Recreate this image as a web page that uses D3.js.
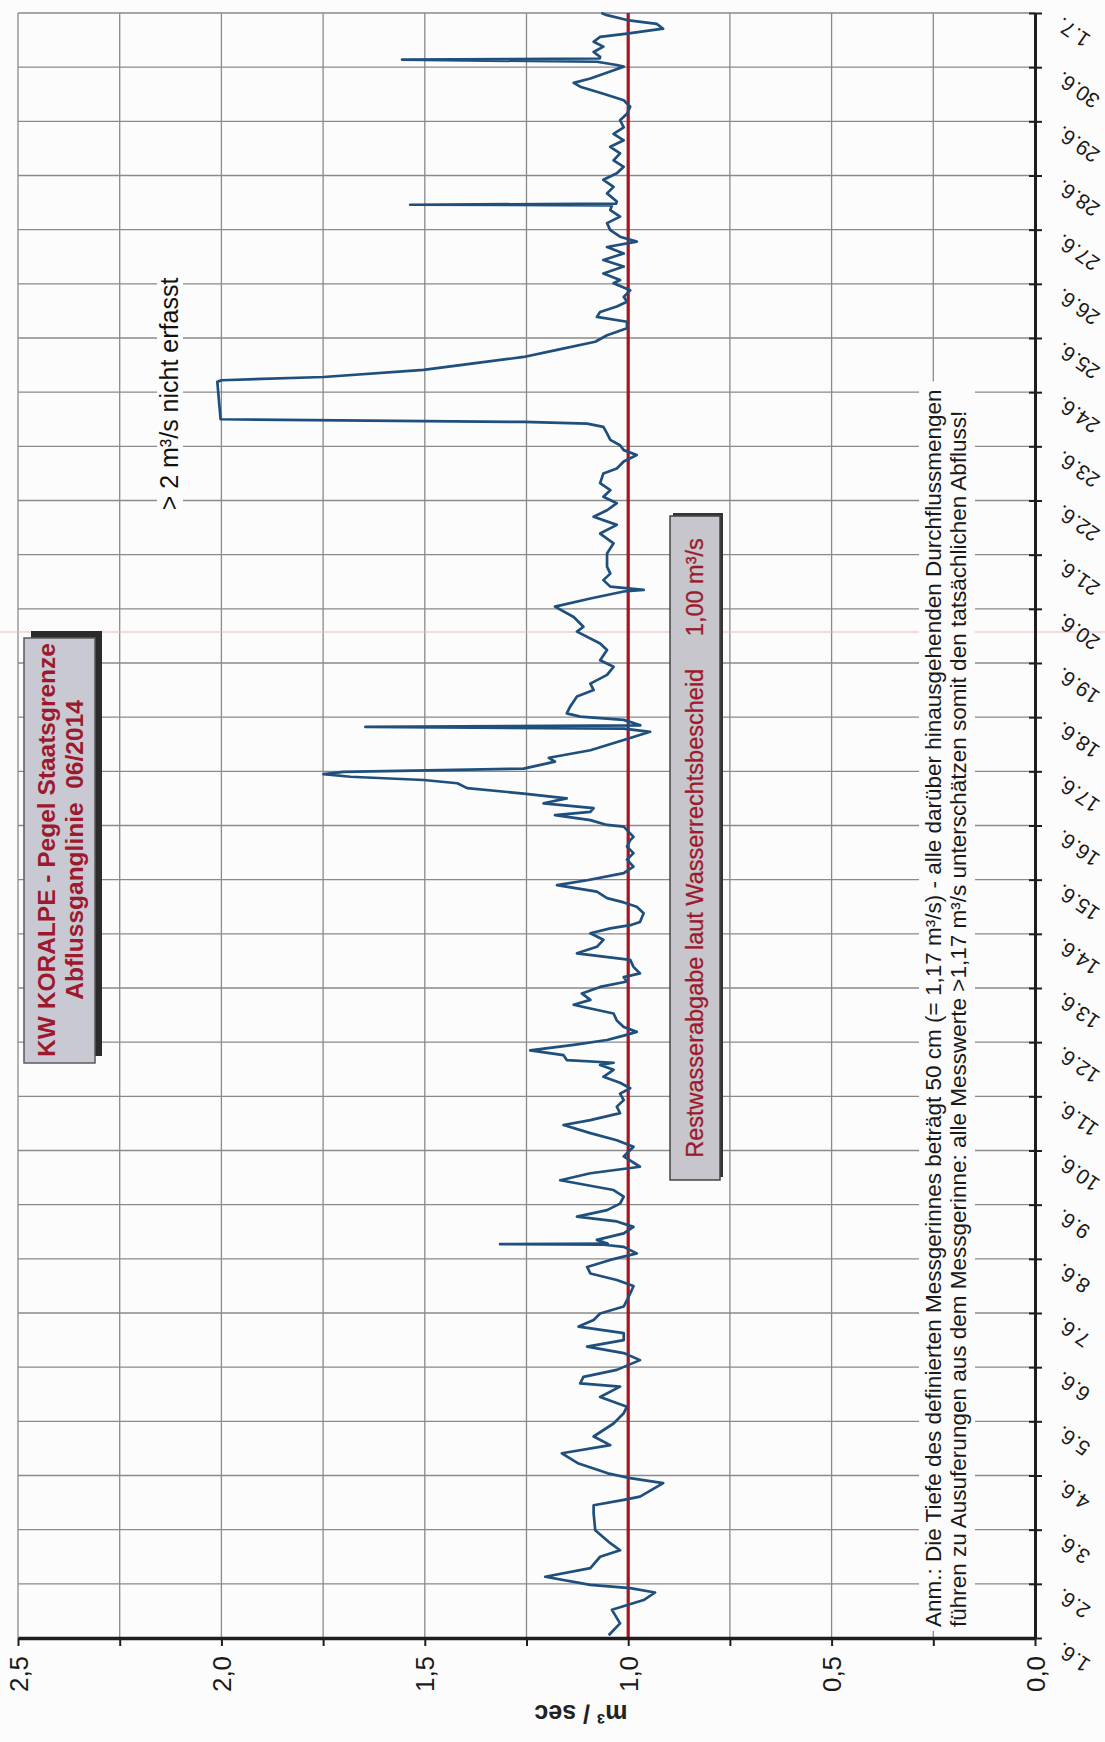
<!DOCTYPE html>
<html><head><meta charset="utf-8">
<script src="https://cdn.jsdelivr.net/npm/d3@7"></script>
<style>body{margin:0;background:#fcfcfc} svg{display:block} text{font-family:"Liberation Sans",Arial,sans-serif}</style>
</head><body><svg id="chart" width="1105" height="1742"></svg>
<script>
// ---- data ----
const dayLabels = ["1.6.","2.6.","3.6.","4.6.","5.6.","6.6.","7.6.","8.6.","9.6.","10.6.","11.6.","12.6.","13.6.","14.6.","15.6.","16.6.","17.6.","18.6.","19.6.","20.6.","21.6.","22.6.","23.6.","24.6.","25.6.","26.6.","27.6.","28.6.","29.6.","30.6.","1.7."];
const valueTicks = [0, 0.5, 1.0, 1.5, 2.0, 2.5];
const valueTickLabels = ["0,0","0,5","1,0","1,5","2,0","2,5"];
const residualFlow = 1.0;
const dayOffsets = [0.05,0.27,0.52,0.70,0.84,0.92,0.98,1.13,1.29,1.50,1.62,1.75,1.99,2.30,2.45,2.55,2.61,2.86,2.95,3.04,3.22,3.41,3.56,3.72,3.96,4.15,4.27,4.45,4.64,4.70,4.82,4.95,5.13,5.26,5.38,5.50,5.63,5.75,5.87,5.99,6.12,6.36,6.50,6.61,6.73,6.85,6.98,7.10,7.22,7.26,7.27,7.28,7.35,7.47,7.59,7.69,7.78,7.90,8.02,8.15,8.27,8.45,8.58,8.70,8.89,9.07,9.19,9.32,9.47,9.56,9.69,9.81,9.93,10.05,10.15,10.25,10.36,10.49,10.58,10.62,10.67,10.76,10.85,10.95,11.04,11.12,11.19,11.28,11.40,11.53,11.65,11.69,11.78,11.90,12.02,12.12,12.20,12.27,12.39,12.52,12.64,12.76,12.89,13.01,13.10,13.16,13.22,13.38,13.50,13.58,13.66,13.78,13.90,13.99,14.12,14.24,14.37,14.49,14.61,14.73,14.79,14.98,15.01,15.10,15.19,15.25,15.32,15.41,15.50,15.59,15.69,15.78,15.84,15.90,15.95,15.99,16.05,16.18,16.25,16.39,16.58,16.73,16.79,16.82,16.85,16.95,17.01,17.07,17.19,17.38,17.50,17.62,17.78,17.93,18.05,18.24,18.36,18.58,18.67,18.85,19.04,19.19,19.32,19.35,19.41,19.53,19.65,19.78,20.02,20.21,20.39,20.55,20.70,20.82,20.95,21.07,21.19,21.32,21.50,21.59,21.72,21.84,21.93,22.02,22.12,22.24,22.36,22.42,22.45,22.50,23.19,23.22,23.28,23.41,23.53,23.65,23.78,23.93,24.05,24.18,24.30,24.39,24.48,24.58,24.67,24.76,24.88,25.01,25.07,25.19,25.32,25.44,25.56,25.68,25.78,25.87,25.99,26.12,26.24,26.36,26.45,26.46,26.48,26.52,26.67,26.79,26.92,27.04,27.16,27.28,27.41,27.53,27.65,27.77,27.89,28.02,28.14,28.27,28.39,28.51,28.64,28.71,28.79,28.92,29.01,29.04,29.10,29.14,29.16,29.19,29.28,29.38,29.47,29.56,29.62,29.71,29.80,29.87,29.96,30.00];
const flowValues = [1.048,1.020,1.040,0.962,0.934,0.995,1.093,1.204,1.093,1.069,1.020,1.044,1.081,1.085,1.085,1.011,0.971,0.914,0.995,1.050,1.122,1.163,1.044,1.085,1.036,1.011,1.003,1.069,1.020,1.118,1.110,1.028,0.971,1.011,1.101,1.011,1.011,1.122,1.085,1.069,1.011,0.995,0.987,1.028,1.093,1.101,1.044,0.979,1.011,1.060,1.315,1.050,1.077,1.011,0.987,1.028,1.126,1.052,1.020,1.011,1.036,1.167,1.093,0.971,1.011,0.987,1.028,1.093,1.159,1.093,1.020,1.028,1.011,1.020,0.995,1.020,1.061,1.036,1.069,1.036,1.151,1.159,1.241,1.134,1.052,1.011,0.979,1.011,1.028,1.036,1.110,1.134,1.093,1.114,1.069,1.003,1.011,0.971,0.987,0.995,1.126,1.077,1.061,1.093,1.044,0.995,0.971,0.962,0.979,1.011,1.052,1.077,1.175,1.101,1.011,0.987,1.003,0.987,1.003,0.995,0.987,1.011,1.052,1.093,1.180,1.093,1.085,1.208,1.151,1.257,1.396,1.420,1.503,1.683,1.749,1.700,1.257,1.180,1.195,1.093,1.011,0.946,1.011,1.646,0.970,1.011,1.118,1.151,1.143,1.126,1.085,1.093,1.052,1.036,1.069,1.052,1.069,1.126,1.110,1.134,1.180,1.093,1.011,0.962,1.044,1.061,1.044,1.052,1.052,1.036,1.069,1.028,1.085,1.052,1.028,1.061,1.044,1.069,1.061,1.028,1.011,0.979,1.011,1.020,1.044,1.052,1.061,1.101,1.257,2.002,2.010,2.000,1.749,1.503,1.380,1.257,1.175,1.081,1.052,1.003,1.003,1.077,1.069,1.028,1.003,1.011,0.995,1.036,1.020,1.061,1.011,1.061,1.011,1.052,0.979,1.020,1.044,1.052,1.020,1.044,1.040,1.536,1.030,1.028,1.052,1.036,1.061,1.028,1.011,1.036,1.020,1.044,1.011,1.036,1.011,1.020,1.003,0.995,1.011,1.061,1.118,1.134,1.093,1.044,1.011,1.028,1.077,1.556,1.070,1.069,1.085,1.061,1.085,1.069,1.003,0.914,0.930,1.003,1.052,1.066];
const titleLines = ["KW KORALPE - Pegel Staatsgrenze", "Abflussganglinie\u00a0\u00a006/2014"];
const residualLabel = "Restwasserabgabe laut Wasserrechtsbescheid\u00a0\u00a0\u00a0\u00a0\u00a01,00 m³/s";
const capLabel = "> 2 m³/s nicht erfasst";
const noteLines = ["Anm.: Die Tiefe des definierten Messgerinnes beträgt 50 cm (= 1,17 m³/s) - alle darüber hinausgehenden Durchflussmengen",
                   "führen zu Ausuferungen aus dem Messgerinne: alle Messwerte >1,17 m³/s unterschätzen somit den tatsächlichen Abfluss!"];
const unitLabel = "m³ / sec";

// ---- layout ----
const svg = d3.select("#chart");
const X0 = 18, X1 = 1035, Y0 = 13, Y1 = 1638;
const xVal = d3.scaleLinear().domain([0, 2.5]).range([X1, X0]);
const yDay = d3.scaleLinear().domain([0, 30]).range([Y1, Y0]);
const data = dayOffsets.map((d, i) => ({d, v: flowValues[i]}));
const darkRed = "#9d1a2e";

svg.append("rect").attr("width",1105).attr("height",1742).attr("fill","#fcfcfc");

// grid
const gridVals = d3.range(0, 2.5001, 0.25);
svg.append("g").selectAll("line").data(gridVals).join("line")
  .attr("x1", d => xVal(d)).attr("x2", d => xVal(d)).attr("y1", Y0).attr("y2", Y1)
  .attr("stroke", "#8a8a8a").attr("stroke-width", 1.3);
svg.append("g").selectAll("line").data(d3.range(0, 31)).join("line")
  .attr("x1", X0).attr("x2", X1).attr("y1", d => yDay(d)).attr("y2", d => yDay(d))
  .attr("stroke", "#8a8a8a").attr("stroke-width", 1.3);

// scan artefact line
svg.append("line").attr("x1",0).attr("x2",1105).attr("y1",632).attr("y2",632)
  .attr("stroke","#f0b8b8").attr("stroke-width",1);

// note group (background + text)
const noteG = svg.append("g");

// residual flow line
svg.append("line").attr("x1", xVal(residualFlow)).attr("x2", xVal(residualFlow))
  .attr("y1", yDay(0)).attr("y2", yDay(30)).attr("stroke", "#a8141f").attr("stroke-width", 3.2);

// series
svg.append("path").datum(data)
  .attr("d", d3.line().x(p => xVal(p.v)).y(p => yDay(p.d)))
  .attr("fill","none").attr("stroke","#1f4f7c").attr("stroke-width",2.7).attr("stroke-linejoin","round");

// axes
const ax = svg.append("g").attr("transform", `translate(${X1},0)`)
  .call(d3.axisRight(yDay).tickValues(d3.range(0,31)).tickSizeInner(7).tickSizeOuter(0).tickFormat(i => dayLabels[i]));
ax.select(".domain").attr("stroke","#1e1e1e").attr("stroke-width",3);
ax.selectAll(".tick line").attr("x1",-6).attr("stroke","#1e1e1e").attr("stroke-width",2);
ax.selectAll(".tick text").attr("x",0).attr("y",0).attr("dy",null)
  .attr("transform","translate(28,3) rotate(-145)").attr("text-anchor","end")
  .attr("font-size",21).attr("fill","#1a1a1a").attr("font-family","Liberation Sans, Arial, sans-serif");

const bx = svg.append("g").attr("transform", `translate(0,${Y1})`)
  .call(d3.axisBottom(xVal).tickValues(gridVals).tickSizeInner(8).tickSizeOuter(0)
    .tickFormat(v => { const k = valueTicks.findIndex(t => Math.abs(t - v) < 1e-9); return k >= 0 ? valueTickLabels[k] : ""; }));
bx.select(".domain").attr("stroke","#1e1e1e").attr("stroke-width",3.5);
bx.selectAll(".tick line").attr("stroke","#1e1e1e").attr("stroke-width",2);
bx.selectAll(".tick text").attr("x",0).attr("y",0).attr("dy",null)
  .attr("transform","translate(9,36) rotate(-90)").attr("text-anchor","middle")
  .attr("font-size",26).attr("fill","#1a1a1a").attr("font-family","Liberation Sans, Arial, sans-serif");

// unit label
svg.append("text").attr("transform","translate(581,1705) rotate(180)").attr("text-anchor","middle")
  .attr("font-size",25).attr("font-weight","bold").attr("fill","#222").text(unitLabel);

// title box
svg.append("rect").attr("x",31).attr("y",631).attr("width",71).attr("height",425).attr("fill","#2b2b2b");
svg.append("rect").attr("x",24).attr("y",638).attr("width",71).attr("height",425)
  .attr("fill","#c9c9d3").attr("stroke","#5a5a5a").attr("stroke-width",1.5);
titleLines.forEach((t, i) => {
  svg.append("text").attr("transform",`translate(${55 + i*28},850) rotate(-90)`).attr("text-anchor","middle")
    .attr("font-size",24.5).attr("font-weight","bold").attr("fill",darkRed).text(t);
});

// residual label box
svg.append("rect").attr("x",673).attr("y",513).attr("width",50).attr("height",664).attr("fill","#333");
svg.append("rect").attr("x",670).attr("y",516).attr("width",50).attr("height",664)
  .attr("fill","#c6c6cc").attr("stroke","#444").attr("stroke-width",1.5);
svg.append("text").attr("transform","translate(703,848) rotate(-90)").attr("text-anchor","middle")
  .attr("font-size",23.5).attr("fill",darkRed).attr("stroke",darkRed).attr("stroke-width",0.3).text(residualLabel);

// cap label
svg.append("rect").attr("x",157).attr("y",270).attr("width",26).attr("height",248).attr("fill","#fcfcfc");
svg.append("text").attr("transform","translate(178,394) rotate(-90)").attr("text-anchor","middle")
  .attr("font-size",25).attr("fill","#111").text(capLabel);

// note
const noteTexts = noteLines.map((t, i) => noteG.append("text")
  .attr("transform",`translate(${941 + i*25},1627) rotate(-90)`).attr("text-anchor","start")
  .attr("font-size",22.5).attr("fill","#1a1a1a").text(t));
const maxLen = d3.max(noteTexts, n => n.node().getComputedTextLength());
noteG.insert("rect","text").attr("x",919).attr("y",1627 - maxLen - 8).attr("width",56).attr("height",maxLen + 12)
  .attr("fill","#fcfcfc");
</script></body></html>
